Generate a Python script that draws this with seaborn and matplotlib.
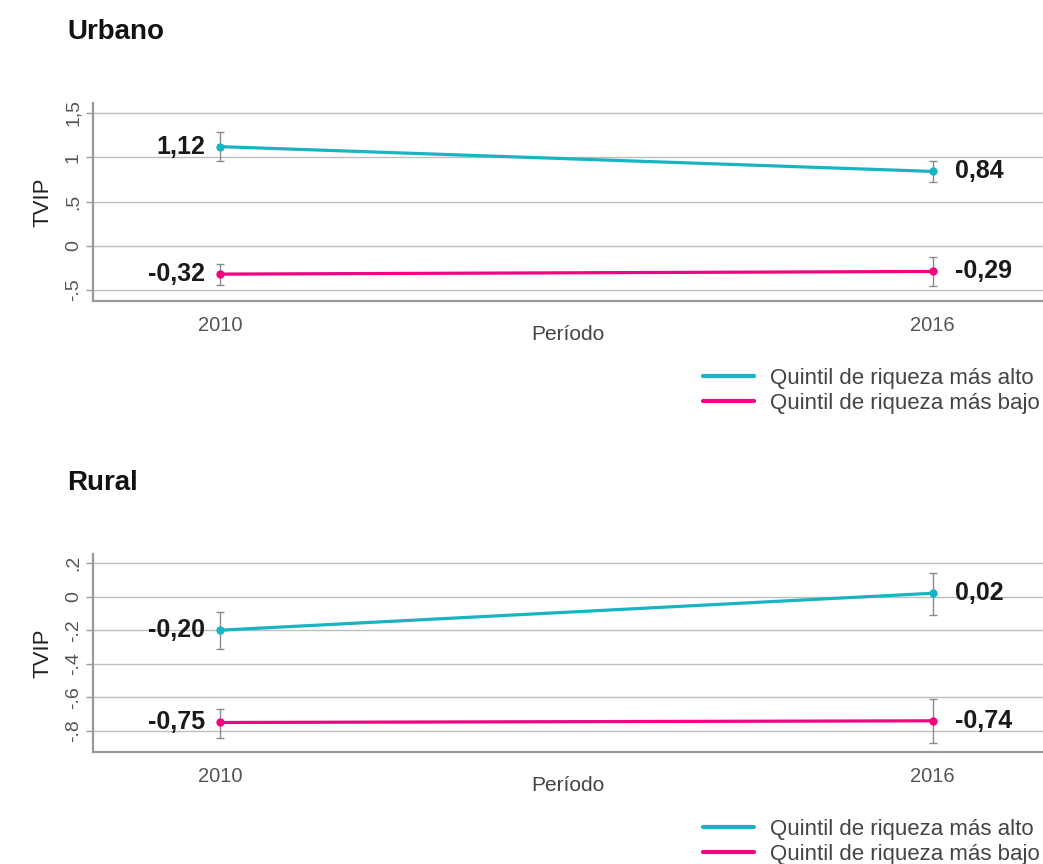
import matplotlib
matplotlib.use("Agg")
import matplotlib.pyplot as plt
import seaborn as sns
import pandas as pd

years = [2010, 2016]
series = ["Quintil de riqueza más alto", "Quintil de riqueza más bajo"]

# urbano
urb_alto = [1.12, 0.84]
urb_alto_lo = [0.96, 0.72]
urb_alto_hi = [1.29, 0.96]
urb_bajo = [-0.32, -0.29]
urb_bajo_lo = [-0.44, -0.45]
urb_bajo_hi = [-0.21, -0.13]

# rural
rur_alto = [-0.20, 0.02]
rur_alto_lo = [-0.31, -0.11]
rur_alto_hi = [-0.09, 0.14]
rur_bajo = [-0.75, -0.74]
rur_bajo_lo = [-0.84, -0.87]
rur_bajo_hi = [-0.67, -0.61]

urb_ticks = [-0.5, 0, 0.5, 1, 1.5]
urb_ticklabels = ["-.5", "0", ".5", "1", "1,5"]
rur_ticks = [-0.8, -0.6, -0.4, -0.2, 0, 0.2]
rur_ticklabels = ["-.8", "-.6", "-.4", "-.2", "0", ".2"]

colors = ["#17b4c2", "#f0047f"]

sns.set_style("white")
plt.rcParams['font.family'] = ['Liberation Sans', 'DejaVu Sans']

fig = plt.figure(figsize=(10.43, 8.64), dpi=100)
ax1 = fig.add_axes([0.0892, 0.6516, 0.9108, 0.2292])
ax2 = fig.add_axes([0.0892, 0.1296, 0.9108, 0.2292])


def fmt(v):
    return ("%.2f" % v).replace(".", ",")


def panel(ax, alto, alto_lo, alto_hi, bajo, bajo_lo, bajo_hi, ticks, ticklabels, ylim, title, legend_y):
    df = pd.DataFrame({
        "Período": years * 2,
        "TVIP": alto + bajo,
        "serie": [series[0]] * 2 + [series[1]] * 2,
    })
    for vals, lo, hi in [(alto, alto_lo, alto_hi), (bajo, bajo_lo, bajo_hi)]:
        ax.errorbar(years, vals, yerr=[[v - l for v, l in zip(vals, lo)], [h - v for v, h in zip(vals, hi)]],
                    fmt="none", ecolor="#8a8a8a", elinewidth=1, capsize=3, capthick=1, zorder=2)
    sns.lineplot(data=df, x="Período", y="TVIP", hue="serie", palette=colors, marker="o",
                 markersize=6, markeredgewidth=0, linewidth=2.3, ax=ax, zorder=3)
    for vals in (alto, bajo):
        ax.annotate(fmt(vals[0]), (years[0], vals[0]), xytext=(-11, 0), textcoords="offset points",
                    ha="right", va="center", fontsize=18, fontweight="bold", color="#1a1a1a")
        ax.annotate(fmt(vals[1]), (years[1], vals[1]), xytext=(16, 0), textcoords="offset points",
                    ha="left", va="center", fontsize=18, fontweight="bold", color="#1a1a1a")
    ax.set_xlim(2008.93, 2016.93)
    ax.set_ylim(*ylim)
    ax.set_xticks(years)
    ax.set_xticklabels([str(y) for y in years])
    ax.set_yticks(ticks)
    ax.set_yticklabels(ticklabels, rotation=90, va="center")
    ax.yaxis.grid(True, color="#bdbdbd", linewidth=1)
    ax.xaxis.grid(False)
    for s in ["top", "right"]:
        ax.spines[s].set_visible(False)
    for s in ["left", "bottom"]:
        ax.spines[s].set_color("#9a9a9a")
        ax.spines[s].set_linewidth(1.6)
    ax.tick_params(axis="y", left=True, length=5, width=1, color="#9a9a9a", labelsize=14,
                   labelcolor="#555555", pad=3)
    ax.tick_params(axis="x", bottom=False, labelsize=14.5, labelcolor="#555555", pad=7)
    ax.set_xlabel("Período", fontsize=15, color="#444444", labelpad=-7)
    ax.set_ylabel("TVIP", fontsize=16, color="#222222", labelpad=8)
    ax.set_title(title, loc="left", x=-0.027, y=1.28, fontsize=20, fontweight="bold", color="#111111")
    handles, labels = ax.get_legend_handles_labels()
    for h in handles:
        h.set_marker("")
        h.set_linewidth(3)
    ax.legend(handles, labels, loc="center left", bbox_to_anchor=(0.630, legend_y), frameon=False,
              fontsize=16, handlelength=2.3, handletextpad=0.72, labelspacing=0.17, borderpad=0,
              labelcolor="#444444")


panel(ax1, urb_alto, urb_alto_lo, urb_alto_hi, urb_bajo, urb_bajo_lo, urb_bajo_hi,
      urb_ticks, urb_ticklabels, (-0.624, 1.613), "Urbano", -0.455)
panel(ax2, rur_alto, rur_alto_lo, rur_alto_hi, rur_bajo, rur_bajo_lo, rur_bajo_hi,
      rur_ticks, rur_ticklabels, (-0.926, 0.254), "Rural", -0.455)

fig.savefig("out.png", dpi=100)
